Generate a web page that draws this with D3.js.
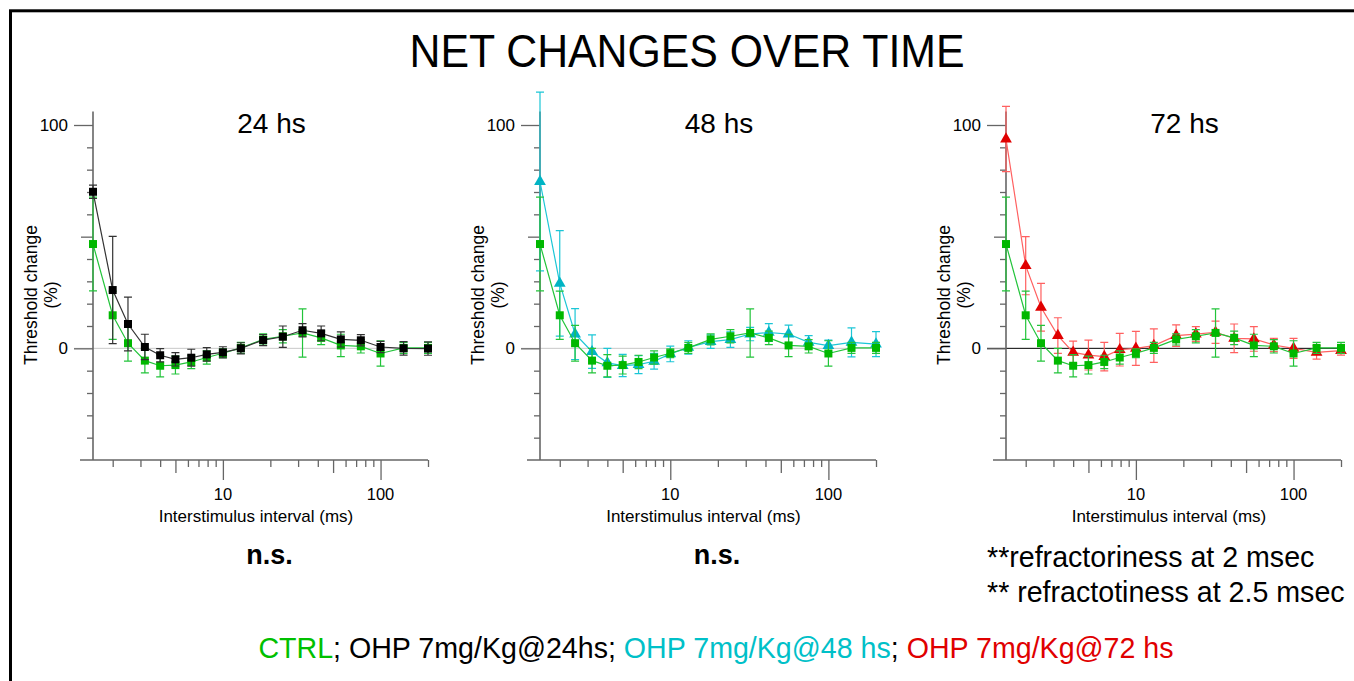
<!DOCTYPE html>
<html>
<head>
<meta charset="utf-8">
<script src="https://cdn.jsdelivr.net/npm/d3@7"></script>
<style>
  body { margin: 0; background: #fff; }
  svg { display: block; font-family: "Liberation Sans", Arial, sans-serif; }
</style>
</head>
<body>
<div id="chart"></div>
<script>
// interstimulus intervals (ms)
const isi = [1.5, 2, 2.5, 3.2, 4, 5, 6.3, 7.9, 10, 13, 18, 24, 32, 42, 56, 75, 100, 140, 200];

// CTRL (same in all three panels)
const ctrlMean = [46.7, 14.8, 2.3, -5.5, -7.8, -7.5, -6.1, -4.1, -2.2, 0.2, 4.0, 5.4, 6.9, 4.7, 1.3, 0.9, -2.3, 0.2, 0.2];
const ctrlErr  = [21, 10.8, 8, 5.5, 5, 4, 3, 3, 2, 2.5, 2.5, 3, 10.8, 3, 5, 3, 5.7, 2.5, 2.5];

// OHP 7mg/Kg @ 24 hs
const ohp24Mean = [70.1, 26.1, 10.9, 0.6, -3.1, -4.9, -4.2, -2.7, -1.8, 0, 3.7, 5.2, 8.1, 6.7, 4.0, 3.6, 0.6, 0, -0.1];
const ohp24Err  = [3, 24, 12, 5.7, 3, 3, 3.8, 3, 2.5, 2.5, 2.5, 4.8, 3, 3.3, 3.4, 2.5, 2.5, 3, 3];

// OHP 7mg/Kg @ 48 hs
const ohp48Mean = [74.7, 29.1, 6.4, -1.5, -6.5, -7.7, -7.3, -5.8, -2.5, 0.4, 3.0, 3.9, 6.4, 7.1, 6.4, 2.7, 1.2, 2.7, 1.9];
const ohp48Err  = [40, 23.6, 11.4, 7.5, 6.5, 5, 4, 3.5, 3.5, 3, 3, 3.5, 3, 4, 4, 3, 2.5, 6.5, 5.6];

// OHP 7mg/Kg @ 72 hs
const ohp72Mean = [93.7, 37, 18.4, 5.7, -1.8, -3, -3.7, -0.6, 0, 1.2, 5.7, 6.4, 7.2, 4.5, 4.2, 1.5, 0, -1.8, -1];
const ohp72Err  = [14.6, 13, 10.7, 8, 5, 6.7, 6.4, 7.3, 7.6, 7.5, 4.8, 3.3, 5, 6.4, 5.5, 3, 4.5, 3, 2];

const panelTitles = ["24 hs", "48 hs", "72 hs"];
const yTickLabels = [0, 100];
const xTickLabels = [10, 100];
const notes = ["n.s.", "n.s."];
const refractNotes = ["**refractoriness at 2 msec", "** refractotiness at 2.5 msec"];
const legendParts = [
  { text: "CTRL", color: "#00c000" },
  { text: "; OHP 7mg/Kg@24hs; ", color: "#000" },
  { text: "OHP 7mg/Kg@48 hs", color: "#00c0c8" },
  { text: "; ", color: "#000" },
  { text: "OHP 7mg/Kg@72 hs", color: "#e00000" }
];

const W = 1354, H = 681;
const svg = d3.select("#chart").append("svg")
  .attr("width", W)
  .attr("height", H);

svg.append("rect")
  .attr("x", 10.5).attr("y", 10.8)
  .attr("width", W + 20).attr("height", H + 20)
  .attr("fill", "none")
  .attr("stroke", "#000")
  .attr("stroke-width", 3);

svg.append("text")
  .attr("x", 687).attr("y", 67)
  .attr("text-anchor", "middle")
  .attr("font-size", 47)
  .attr("textLength", 555)
  .attr("lengthAdjust", "spacingAndGlyphs")
  .text("NET CHANGES OVER TIME");

const green = { mark: "#00b800", line: "#22c43a" };
const series24 = { mean: ohp24Mean, err: ohp24Err, mark: "#000", line: "#333", shape: "square" };
const series48 = { mean: ohp48Mean, err: ohp48Err, mark: "#00b4c4", line: "#1cc6d6", shape: "triangle" };
const series72 = { mean: ohp72Mean, err: ohp72Err, mark: "#e00000", line: "#ff6060", shape: "triangle" };
const ctrl = { mean: ctrlMean, err: ctrlErr, mark: green.mark, line: green.line, shape: "square" };

const panels = [
  { left: 93, right: 428, title: panelTitles[0], layers: [ctrl, series24], zero: "#c8c8c8" },
  { left: 540, right: 876, title: panelTitles[1], layers: [series48, ctrl], zero: "#c8c8c8" },
  { left: 1006, right: 1341, title: panelTitles[2], layers: [series72, ctrl], zero: "#000" }
];

const y = d3.scaleLinear().domain([-50, 100]).range([460, 125]);
const axisColor = "#666";

panels.forEach(p => {
  const x = d3.scaleLog().domain([1.5, 200]).range([p.left, p.right]);
  const g = svg.append("g");

  // zero reference line
  g.append("line")
    .attr("x1", p.left - 19).attr("x2", x(200))
    .attr("y1", y(0)).attr("y2", y(0))
    .attr("stroke", p.zero).attr("stroke-width", 1);

  // x axis
  const xMinor = [2, 3, 4, 6, 7, 8, 9, 20, 30, 40, 60, 70, 80, 90, 200];
  const xMid = [5, 50];
  const xAxisG = g.append("g").attr("transform", `translate(0,${y(-50)})`);
  [[xMinor, 7], [xMid, 13], [xTickLabels, 20]].forEach(([vals, len]) => {
    xAxisG.append("g")
      .call(d3.axisBottom(x).tickValues(vals).tickSize(len).tickFormat(""))
      .call(a => a.select(".domain").remove())
      .call(a => a.selectAll("line").attr("stroke", axisColor).attr("stroke-width", 1.3));
  });
  xAxisG.selectAll(".xlab").data(xTickLabels).enter().append("text")
    .attr("x", d => x(d)).attr("y", 40)
    .attr("text-anchor", "middle").attr("font-size", 16.5)
    .text(d => d);
  xAxisG.append("line")
    .attr("x1", p.left - 13).attr("x2", x(200))
    .attr("stroke", axisColor).attr("stroke-width", 1.6);

  // y axis
  const yMinor = d3.range(-40, 101, 10).filter(v => v % 50 !== 0);
  const yAxisG = g.append("g").attr("transform", `translate(${p.left},0)`);
  [[yMinor, 6], [[50], 12], [yTickLabels, 19]].forEach(([vals, len]) => {
    yAxisG.append("g")
      .call(d3.axisLeft(y).tickValues(vals).tickSize(len).tickFormat(""))
      .call(a => a.select(".domain").remove())
      .call(a => a.selectAll("line").attr("stroke", axisColor).attr("stroke-width", 1.3));
  });
  yAxisG.selectAll(".ylab").data(yTickLabels).enter().append("text")
    .attr("x", -25).attr("y", d => y(d) + 6)
    .attr("text-anchor", "end").attr("font-size", 17)
    .text(d => d);
  yAxisG.append("line")
    .attr("y1", y(-50)).attr("y2", y(106))
    .attr("stroke", axisColor).attr("stroke-width", 1.6);

  // axis titles
  const cy = 295;
  g.append("text")
    .attr("transform", `translate(${p.left - 56},${cy}) rotate(-90)`)
    .attr("text-anchor", "middle").attr("font-size", 17.5)
    .text("Threshold change");
  g.append("text")
    .attr("transform", `translate(${p.left - 36},${cy}) rotate(-90)`)
    .attr("text-anchor", "middle").attr("font-size", 17.5)
    .text("(%)");
  g.append("text")
    .attr("x", (p.left + p.right) / 2 - 4.5).attr("y", 522)
    .attr("text-anchor", "middle").attr("font-size", 17)
    .text("Interstimulus interval (ms)");

  g.append("text")
    .attr("x", (p.left + p.right) / 2 + 11).attr("y", 133)
    .attr("text-anchor", "middle").attr("font-size", 28)
    .text(p.title);

  // data layers
  p.layers.forEach(s => {
    const pts = isi.map((v, i) => ({ x: v, m: s.mean[i], e: s.err[i] }));
    const lg = g.append("g");
    lg.selectAll(".eb").data(pts).enter().append("path")
      .attr("d", d => {
        const cx = x(d.x), t = y(d.m + d.e), b = y(d.m - d.e);
        return `M${cx},${t}V${b}M${cx - 4},${t}H${cx + 4}M${cx - 4},${b}H${cx + 4}`;
      })
      .attr("stroke", s.line).attr("stroke-width", 1.2).attr("fill", "none");
    lg.append("path")
      .datum(pts)
      .attr("d", d3.line().x(d => x(d.x)).y(d => y(d.m)))
      .attr("stroke", s.line).attr("stroke-width", 1.2).attr("fill", "none");
    const sym = d3.symbol()
      .type(s.shape === "square" ? d3.symbolSquare : d3.symbolTriangle)
      .size(s.shape === "square" ? 64 : 60);
    lg.selectAll(".mk").data(pts).enter().append("path")
      .attr("transform", d => `translate(${x(d.x)},${y(d.m)})`)
      .attr("d", sym)
      .attr("fill", s.mark);
  });
});

// notes below panels
panels.slice(0, 2).forEach((p, i) => {
  svg.append("text")
    .attr("x", (p.left + p.right) / 2 + 9).attr("y", 564)
    .attr("text-anchor", "middle").attr("font-size", 27).attr("font-weight", "bold")
    .text(notes[i]);
});
refractNotes.forEach((t, i) => {
  svg.append("text")
    .attr("x", 987).attr("y", 567 + i * 35)
    .attr("font-size", 28.6)
    .text(t);
});

// legend line
const legend = svg.append("text")
  .attr("x", 716).attr("y", 658)
  .attr("text-anchor", "middle")
  .attr("font-size", 28.6);
legend.selectAll("tspan").data(legendParts).enter().append("tspan")
  .attr("fill", d => d.color)
  .text(d => d.text);
</script>
</body>
</html>
